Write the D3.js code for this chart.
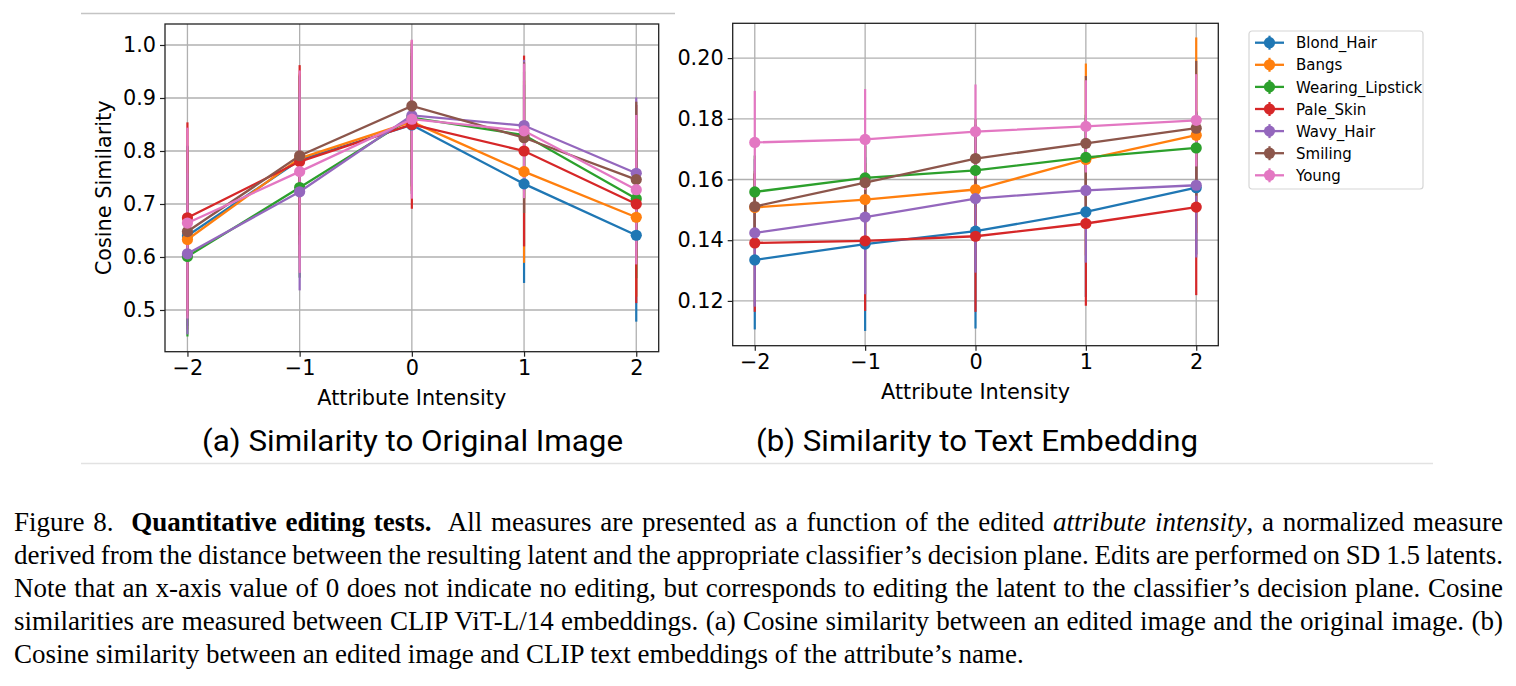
<!DOCTYPE html>
<html>
<head>
<meta charset="utf-8">
<script src="https://cdn.jsdelivr.net/npm/d3@7"></script>
<style>
  body { margin: 0; background: #fff; }
  text { white-space: pre; }
</style>
</head>
<body>
<script>
var width = 1516,
    height = 686

// series, same order as the legend
var attributes = ["Blond_Hair", "Bangs", "Wearing_Lipstick", "Pale_Skin", "Wavy_Hair", "Smiling", "Young"];
var colors = ["#1f77b4", "#ff7f0e", "#2ca02c", "#d62728", "#9467bd", "#8c564b", "#e377c2"];
var intensities = [-2, -1, 0, 1, 2];

// (a) similarity to original image: mean and std per attribute
var imageMean = [
  [0.640, 0.783, 0.849, 0.738, 0.641],
  [0.633, 0.786, 0.855, 0.761, 0.675],
  [0.601, 0.731, 0.863, 0.830, 0.710],
  [0.674, 0.780, 0.850, 0.800, 0.700],
  [0.606, 0.723, 0.867, 0.848, 0.758],
  [0.648, 0.791, 0.885, 0.825, 0.746],
  [0.664, 0.761, 0.860, 0.838, 0.727]
];
var imageStd = [
  [0.170, 0.160, 0.130, 0.187, 0.163],
  [0.170, 0.160, 0.130, 0.172, 0.150],
  [0.151, 0.170, 0.130, 0.120, 0.150],
  [0.180, 0.182, 0.159, 0.180, 0.187],
  [0.152, 0.186, 0.130, 0.124, 0.143],
  [0.160, 0.150, 0.120, 0.142, 0.147],
  [0.180, 0.191, 0.150, 0.127, 0.141]
];

// (b) similarity to text embedding
var textMean = [
  [0.1335, 0.1387, 0.1430, 0.1493, 0.1573],
  [0.1508, 0.1534, 0.1567, 0.1666, 0.1746],
  [0.1559, 0.1605, 0.1630, 0.1673, 0.1704],
  [0.1391, 0.1398, 0.1413, 0.1455, 0.1509],
  [0.1424, 0.1476, 0.1537, 0.1564, 0.1581],
  [0.1511, 0.1590, 0.1669, 0.1719, 0.1769],
  [0.1722, 0.1732, 0.1758, 0.1775, 0.1795]
];
var textStd = [
  [0.0229, 0.0286, 0.0321, 0.0280, 0.0220],
  [0.0120, 0.0120, 0.0140, 0.0316, 0.0322],
  [0.0120, 0.0120, 0.0120, 0.0140, 0.0120],
  [0.0227, 0.0231, 0.0249, 0.0271, 0.0290],
  [0.0243, 0.0254, 0.0244, 0.0238, 0.0238],
  [0.0110, 0.0120, 0.0130, 0.0222, 0.0222],
  [0.0170, 0.0166, 0.0155, 0.0152, 0.0152]
];

var imageTicks = [0.5, 0.6, 0.7, 0.8, 0.9, 1.0];
var textTicks = [0.12, 0.14, 0.16, 0.18, 0.20];

var subtitles = ["(a) Similarity to Original Image", "(b) Similarity to Text Embedding"];

// caption, one array per printed line: [text, style]
var captionLines = [
  [["Figure 8.  ", ""], ["Quantitative editing tests.", "b"], ["  All measures are presented as a function of the edited ", ""], ["attribute intensity", "i"], [", a normalized measure", ""]],
  [["derived from the distance between the resulting latent and the appropriate classifier\u2019s decision plane. Edits are performed on SD 1.5 latents.", ""]],
  [["Note that an x-axis value of 0 does not indicate no editing, but corresponds to editing the latent to the classifier\u2019s decision plane. Cosine", ""]],
  [["similarities are measured between CLIP ViT-L/14 embeddings. (a) Cosine similarity between an edited image and the original image. (b)", ""]],
  [["Cosine similarity between an edited image and CLIP text embeddings of the attribute\u2019s name.", ""]]
];

var svg = d3.select("body").append("svg")
    .attr("width", width)
    .attr("height", height)
    .style("font-family", "'DejaVu Sans', sans-serif");

svg.append("rect").attr("width", width).attr("height", height).attr("fill", "#fff");

// thin rules round the figure
svg.append("line").attr("x1", 81).attr("x2", 675).attr("y1", 13.5).attr("y2", 13.5)
    .attr("stroke", "#c4c4c4").attr("stroke-width", 1.3);
svg.append("line").attr("x1", 81).attr("x2", 1433).attr("y1", 463.5).attr("y2", 463.5)
    .attr("stroke", "#e2e2e2").attr("stroke-width", 1.6);

function drawPanel(box, yDomain, yTicks, fmt, means, stds, ylabel) {
  var x = d3.scaleLinear().domain([-2.2, 2.2]).range([box.left, box.right]);
  var y = d3.scaleLinear().domain(yDomain).range([box.bottom, box.top]);
  var g = svg.append("g");

  // grid
  g.selectAll(".vgrid").data(intensities).enter().append("line")
      .attr("x1", d => x(d)).attr("x2", d => x(d))
      .attr("y1", box.top).attr("y2", box.bottom)
      .attr("stroke", "#b0b0b0").attr("stroke-width", 1.3);
  g.selectAll(".hgrid").data(yTicks).enter().append("line")
      .attr("x1", box.left).attr("x2", box.right)
      .attr("y1", d => y(d)).attr("y2", d => y(d))
      .attr("stroke", "#b0b0b0").attr("stroke-width", 1.3);

  // error bars first, lines and markers above them
  attributes.forEach(function(a, i) {
    g.selectAll(".err" + i).data(intensities).enter().append("line")
        .attr("x1", d => x(d)).attr("x2", d => x(d))
        .attr("y1", (d, j) => y(means[i][j] - stds[i][j]))
        .attr("y2", (d, j) => y(means[i][j] + stds[i][j]))
        .attr("stroke", colors[i]).attr("stroke-width", 2.2);
  });

  var line = d3.line().x((d, j) => x(intensities[j])).y(d => y(d));
  attributes.forEach(function(a, i) {
    g.append("path").datum(means[i])
        .attr("d", line)
        .attr("fill", "none")
        .attr("stroke", colors[i]).attr("stroke-width", 2.3);
    g.selectAll(".pt" + i).data(means[i]).enter().append("circle")
        .attr("cx", (d, j) => x(intensities[j]))
        .attr("cy", d => y(d))
        .attr("r", 5.6)
        .attr("fill", colors[i]);
  });

  g.append("rect")
      .attr("x", box.left).attr("y", box.top)
      .attr("width", box.right - box.left).attr("height", box.bottom - box.top)
      .attr("fill", "none").attr("stroke", "#222").attr("stroke-width", 1.3);

  var xAxis = g.append("g")
      .attr("transform", "translate(0," + box.bottom + ")")
      .call(d3.axisBottom(x).tickValues(intensities).tickFormat(d3.format("d")).tickSize(5).tickPadding(4));
  var yAxis = g.append("g")
      .attr("transform", "translate(" + box.left + ",0)")
      .call(d3.axisLeft(y).tickValues(yTicks).tickFormat(d3.format(fmt)).tickSize(5).tickPadding(4));
  [xAxis, yAxis].forEach(function(ax) {
    ax.select(".domain").remove();
    ax.selectAll("line").attr("stroke", "#222").attr("stroke-width", 1.2);
    ax.selectAll("text").attr("font-size", 20.8).attr("font-family", "'DejaVu Sans', sans-serif").attr("fill", "#000");
  });

  g.append("text")
      .attr("x", (box.left + box.right) / 2).attr("y", box.bottom + 53)
      .attr("text-anchor", "middle").attr("font-size", 20.8)
      .text("Attribute Intensity");
  if (ylabel) {
    g.append("text")
        .attr("transform", "translate(" + (box.left - 54) + "," + ((box.top + box.bottom) / 2) + ") rotate(-90)")
        .attr("text-anchor", "middle").attr("font-size", 20.8)
        .text(ylabel);
  }
}

drawPanel({left: 165, right: 658.7, top: 24, bottom: 351.7}, [0.4213, 1.0396], imageTicks, ".1f", imageMean, imageStd, "Cosine Similarity");
drawPanel({left: 732.7, right: 1218.3, top: 23.3, bottom: 345.7}, [0.10524, 0.21146], textTicks, ".2f", textMean, textStd, null);

// legend
var legend = svg.append("g").attr("transform", "translate(1249,31)");
legend.append("rect")
    .attr("width", 174).attr("height", 158).attr("rx", 3)
    .attr("fill", "#fff").attr("stroke", "#d6d6d6").attr("stroke-width", 1.2);
var item = legend.selectAll(".item").data(attributes).enter().append("g")
    .attr("transform", (d, i) => "translate(0," + (11.7 + i * 22.1) + ")");
item.append("line").attr("x1", 6).attr("x2", 35)
    .attr("stroke", (d, i) => colors[i]).attr("stroke-width", 2.3);
item.append("line").attr("x1", 20.5).attr("x2", 20.5).attr("y1", -7).attr("y2", 7)
    .attr("stroke", (d, i) => colors[i]).attr("stroke-width", 2.2);
item.append("circle").attr("cx", 20.5).attr("r", 5.6)
    .attr("fill", (d, i) => colors[i]);
item.append("text").attr("x", 47).attr("y", 5.6)
    .attr("font-size", 15)
    .text(d => d);

// sub captions, a narrow face in the original
svg.selectAll(".sub").data(subtitles).enter().append("text")
    .attr("x", (d, i) => i ? 977 : 412.5)
    .attr("y", 451)
    .attr("text-anchor", "middle")
    .attr("font-family", "Roboto, sans-serif")
    .attr("font-size", 29)
    .attr("textLength", (d, i) => i ? 442 : 421)
    .attr("lengthAdjust", "spacingAndGlyphs")
    .text(d => d);

// figure caption, justified except the last line
var capLeft = 14, capRight = 1503;
captionLines.forEach(function(segs, k) {
  var t = svg.append("text")
      .attr("x", capLeft).attr("y", 531 + k * 33)
      .attr("font-family", "'Liberation Serif', 'Times New Roman', serif")
      .attr("font-size", 27);
  segs.forEach(function(s) {
    t.append("tspan")
        .attr("font-weight", s[1] == "b" ? "bold" : null)
        .attr("font-style", s[1] == "i" ? "italic" : null)
        .text(s[0]);
  });
  if (k < captionLines.length - 1) {
    var natural = t.node().getComputedTextLength();
    var spaces = segs.map(s => s[0]).join("").split(" ").length - 1;
    t.attr("word-spacing", (capRight - capLeft - natural) / spaces);
  }
});
</script>
</body>
</html>
